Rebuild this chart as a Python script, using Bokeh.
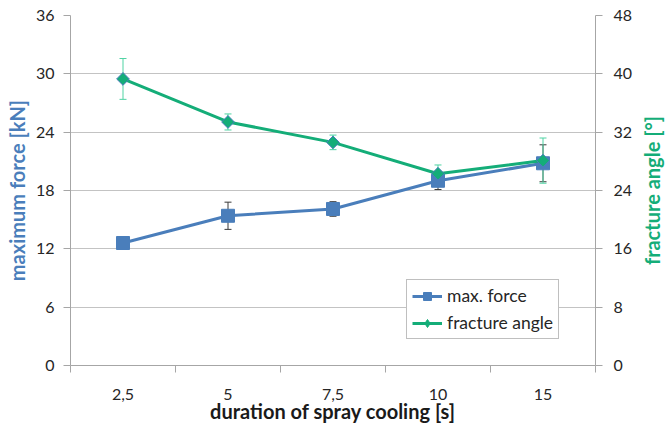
import numpy as np
from bokeh.plotting import figure
from bokeh.layouts import row
from bokeh.models import (Range1d, LinearAxis, FixedTicker, ColumnDataSource,
                          Whisker, Legend, LegendItem, Title)
from bokeh.embed import file_html
from bokeh.resources import INLINE

categories = ["2,5", "5", "7,5", "10", "15"]
max_force = [12.6, 15.4, 16.1, 19.0, 20.8]
max_force_err = [0.3, 1.4, 0.75, 0.9, 1.9]
fracture_angle = [39.3, 33.4, 30.6, 26.3, 28.1]
fracture_angle_err = [2.8, 1.1, 1.0, 1.2, 3.1]
force_ticks = [0, 6, 12, 18, 24, 30, 36]
angle_ticks = [0, 8, 16, 24, 32, 40, 48]

BLUE = "#4a7ebb"
GREEN = "#14ad78"
GREEN_ERR = "#4fd3a3"
GRID = "#c3c3c3"
AXIS = "#a6a6a6"
TXT = "#262626"
FONT = "Lato"

n = len(categories)
xs = np.arange(1, n + 1)

src = ColumnDataSource(dict(
    x=xs,
    force=max_force,
    f_lo=np.array(max_force) - np.array(max_force_err),
    f_hi=np.array(max_force) + np.array(max_force_err),
    angle=fracture_angle,
    a_lo=np.array(fracture_angle) - np.array(fracture_angle_err),
    a_hi=np.array(fracture_angle) + np.array(fracture_angle_err),
))

MAIN_W = 637
p = figure(width=MAIN_W, height=432, x_range=Range1d(0.5, n + 0.5),
           y_range=Range1d(0, force_ticks[-1]), output_backend="svg",
           toolbar_location=None, min_border_left=70,
           min_border_right=MAIN_W - 595,
           min_border_top=15, min_border_bottom=67)
p.outline_line_color = None
p.background_fill_color = "white"
p.border_fill_color = "white"

# x axis
xa = p.xaxis[0]
xa.ticker = FixedTicker(ticks=list(xs), minor_ticks=list(np.arange(0.5, n + 1, 1.0)))
xa.major_label_overrides = {int(i): c for i, c in zip(xs, categories)}
xa.major_tick_out = 0
xa.major_tick_in = 0
xa.minor_tick_out = 7
xa.minor_tick_in = 0
xa.minor_tick_line_color = AXIS
xa.axis_line_color = AXIS
xa.major_label_text_font = FONT
xa.major_label_text_font_size = "16px"
xa.major_label_text_color = TXT
xa.major_label_standoff = 16
xa.axis_label = "duration of spray cooling [s]"
xa.axis_label_text_font = FONT
xa.axis_label_text_font_size = "20px"
xa.axis_label_text_font_style = "bold"
xa.axis_label_text_color = "#1a1a1a"
xa.axis_label_standoff = -4
p.xgrid.visible = False

# left axis
ya = p.yaxis[0]
ya.ticker = FixedTicker(ticks=force_ticks)
ya.major_tick_out = 7
ya.major_tick_in = 0
ya.minor_tick_line_color = None
ya.axis_line_color = AXIS
ya.major_tick_line_color = AXIS
ya.major_label_text_font = FONT
ya.major_label_text_font_size = "16px"
ya.major_label_text_color = TXT
ya.major_label_standoff = 9
ya.axis_label = "maximum force [kN]"
ya.axis_label_text_font = FONT
ya.axis_label_text_font_size = "20px"
ya.axis_label_text_font_style = "bold"
ya.axis_label_text_color = BLUE
ya.axis_label_standoff = 4
p.ygrid.grid_line_color = GRID
p.ygrid.grid_line_width = 1

# right axis (ticks and numbers only; its title sits in the side strip)
p.extra_y_ranges = {"angle": Range1d(0, angle_ticks[-1])}
ra = LinearAxis(y_range_name="angle", ticker=FixedTicker(ticks=angle_ticks))
ra.major_tick_out = 7
ra.major_tick_in = 0
ra.minor_tick_line_color = None
ra.axis_line_color = AXIS
ra.major_tick_line_color = AXIS
ra.major_label_text_font = FONT
ra.major_label_text_font_size = "16px"
ra.major_label_text_color = TXT
ra.major_label_standoff = 11
p.add_layout(ra, "right")

# max force series
l1 = p.line("x", "force", source=src, color=BLUE, line_width=3)
w1 = Whisker(source=src, base="x", lower="f_lo", upper="f_hi",
             line_color="#3a3a3a", line_width=1)
w1.upper_head.line_color = "#3a3a3a"
w1.lower_head.line_color = "#3a3a3a"
w1.upper_head.size = 7
w1.lower_head.size = 7
p.add_layout(w1)
s1 = p.scatter("x", "force", source=src, marker="square", size=13,
               fill_color=BLUE, line_color=BLUE)

# fracture angle series
l2 = p.line("x", "angle", source=src, color=GREEN, line_width=3,
            y_range_name="angle")
w2 = Whisker(source=src, base="x", lower="a_lo", upper="a_hi",
             line_color=GREEN_ERR, y_range_name="angle")
w2.upper_head.line_color = GREEN_ERR
w2.lower_head.line_color = GREEN_ERR
w2.upper_head.size = 7
w2.lower_head.size = 7
p.add_layout(w2)
s2 = p.scatter("x", "angle", source=src, marker="square", size=9,
               angle=np.pi / 4, fill_color=GREEN, line_color=BLUE,
               line_width=1, y_range_name="angle")

# legend-only diamond (point with no position, so nothing shows in the plot)
leg_src = ColumnDataSource(dict(x=[np.nan], y=[np.nan]))
s2_leg = p.scatter("x", "y", source=leg_src, marker="diamond", size=12,
                   fill_color=GREEN, line_color=GREEN, y_range_name="angle")

legend = Legend(items=[LegendItem(label="max. force", renderers=[l1, s1]),
                       LegendItem(label="fracture angle", renderers=[l2, s2_leg])],
                location=(336, 26), label_text_font=FONT,
                label_text_font_size="17.5px", label_text_color=TXT,
                glyph_width=30, glyph_height=20, label_height=20,
                spacing=6, padding=5, margin=0, label_standoff=5,
                border_line_color="#7f7f7f", border_line_width=1,
                background_fill_color="white", background_fill_alpha=1)
p.add_layout(legend)

# narrow strip holding the right-hand axis title, reading bottom-to-top
SIDE_W = 665 - MAIN_W
side = figure(width=SIDE_W, height=432, output_backend="svg",
              toolbar_location=None, x_axis_location=None,
              y_axis_location=None, min_border_left=0, min_border_right=0,
              min_border_top=15, min_border_bottom=67)
side.outline_line_color = None
side.grid.visible = False
side.add_layout(Title(text="fracture angle [°]", align="center",
                      text_font=FONT, text_font_size="20px",
                      text_font_style="bold", text_color=GREEN,
                      offset=0, standoff=0), "left")

layout = row(p, side, spacing=0)
open("out.html", "w").write(file_html(layout, INLINE))
